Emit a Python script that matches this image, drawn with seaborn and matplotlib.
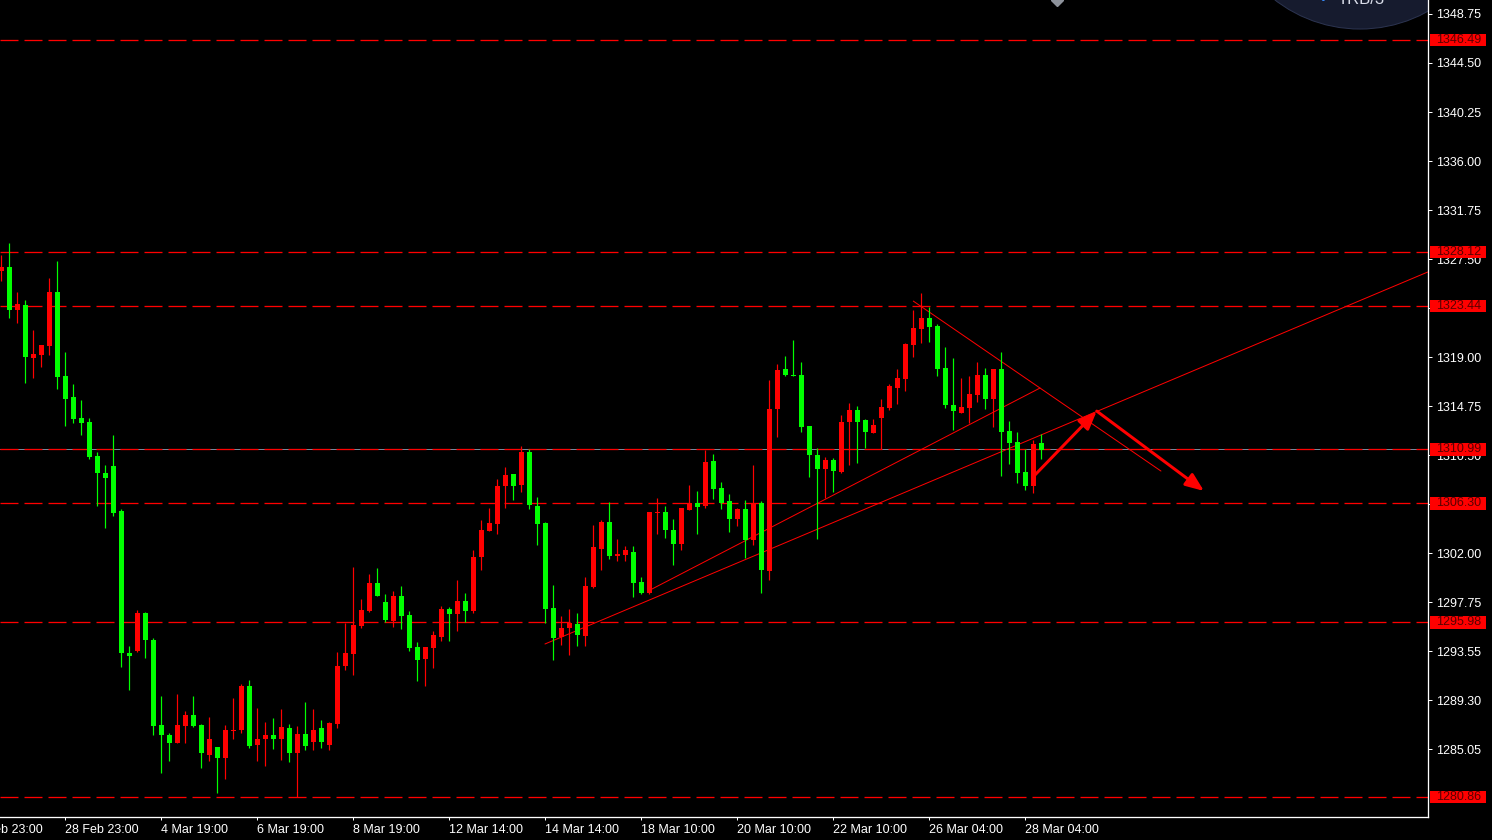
import matplotlib
matplotlib.use("Agg")
import matplotlib.pyplot as plt
import matplotlib.transforms as mtransforms
from matplotlib.patches import Rectangle, Ellipse
import numpy as np
import pandas as pd
import seaborn as sns

# H4 candles (index 0 = first visible candle)
opens = [1326.48, 1326.80, 1323.10, 1323.48, 1318.94, 1319.17, 1319.98, 1324.64, 1317.35, 1315.53,
         1313.71, 1313.36, 1310.41, 1308.91, 1309.54, 1305.64, 1293.33, 1293.53, 1296.80, 1294.45,
         1287.08, 1286.21, 1285.55, 1287.02, 1287.95, 1287.08, 1284.51, 1285.17, 1284.25, 1286.56,
         1286.65, 1290.46, 1285.35, 1285.84, 1286.21, 1285.84, 1286.82, 1284.63, 1286.30, 1285.61,
         1286.82, 1285.35, 1287.17, 1292.22, 1293.26, 1295.69, 1296.97, 1299.40, 1297.75, 1296.10,
         1298.27, 1296.62, 1293.85, 1292.81, 1293.76, 1294.71, 1297.14, 1296.71, 1297.84, 1296.97,
         1301.65, 1303.91, 1304.51, 1307.81, 1308.85, 1307.90, 1310.76, 1306.07, 1304.60, 1297.23,
         1294.71, 1295.49, 1295.84, 1294.80, 1299.05, 1302.35, 1304.69, 1301.74, 1301.83, 1302.09,
         1299.48, 1298.53, 1305.47, 1305.55, 1303.99, 1302.78, 1305.73, 1306.34, 1306.07, 1309.98,
         1307.64, 1306.51, 1304.95, 1305.81, 1303.13, 1306.34, 1300.44, 1314.49, 1317.96, 1317.44,
         1317.44, 1313.01, 1310.50, 1309.28, 1310.06, 1309.02, 1313.36, 1314.40, 1313.53, 1312.41,
         1313.71, 1314.57, 1316.31, 1317.09, 1320.04, 1321.43, 1322.38, 1321.69, 1318.04, 1314.83,
         1314.14, 1314.57, 1315.70, 1317.44, 1315.36, 1317.96, 1312.58, 1311.63, 1309.02, 1307.81,
         1311.54]
highs = [1327.84, 1328.91, 1324.64, 1323.94, 1321.34, 1320.04, 1325.85, 1327.32, 1319.43, 1316.66,
         1315.27, 1313.71, 1310.78, 1309.63, 1312.23, 1305.79, 1293.93, 1297.06, 1296.88, 1294.60,
         1289.60, 1286.39, 1289.77, 1288.30, 1289.60, 1287.17, 1287.78, 1285.17, 1287.08, 1289.42,
         1290.64, 1290.98, 1288.56, 1287.34, 1287.69, 1288.47, 1287.17, 1287.00, 1289.08, 1288.47,
         1287.51, 1287.34, 1293.41, 1295.93, 1300.78, 1298.01, 1300.18, 1300.70, 1298.44, 1298.70,
         1299.14, 1296.97, 1294.28, 1293.85, 1295.23, 1297.40, 1297.32, 1299.66, 1298.53, 1302.26,
         1304.86, 1305.90, 1308.42, 1309.46, 1308.85, 1311.28, 1311.02, 1306.86, 1304.69, 1299.22,
         1296.53, 1297.14, 1296.80, 1299.92, 1304.43, 1304.86, 1306.42, 1303.21, 1302.61, 1302.61,
         1299.92, 1305.55, 1306.77, 1306.07, 1304.95, 1305.90, 1307.90, 1307.38, 1310.93, 1310.59,
         1308.16, 1307.12, 1305.90, 1306.60, 1309.63, 1306.51, 1317.00, 1318.39, 1319.08, 1320.47,
         1318.56, 1313.01, 1311.11, 1310.32, 1310.24, 1313.97, 1315.01, 1314.75, 1313.62, 1313.62,
         1315.36, 1316.66, 1317.96, 1320.21, 1323.07, 1324.55, 1323.33, 1321.86, 1319.87, 1318.91,
         1317.18, 1317.35, 1318.56, 1318.04, 1317.96, 1319.43, 1313.45, 1312.49, 1311.02, 1311.80,
         1312.32]
lows = [1325.62, 1322.41, 1321.97, 1316.77, 1317.20, 1318.16, 1319.17, 1316.25, 1313.04, 1313.30,
        1312.26, 1310.18, 1306.10, 1304.19, 1305.23, 1292.14, 1290.12, 1293.44, 1292.92, 1286.21,
        1282.89, 1283.99, 1285.55, 1285.55, 1286.93, 1283.38, 1283.99, 1281.16, 1282.40, 1285.89,
        1286.41, 1285.11, 1283.99, 1283.55, 1285.03, 1284.07, 1283.90, 1280.86, 1284.91, 1284.91,
        1285.09, 1284.91, 1286.85, 1291.88, 1291.42, 1295.52, 1296.88, 1298.30, 1296.01, 1295.58,
        1295.41, 1293.50, 1290.90, 1290.46, 1292.02, 1294.37, 1294.37, 1295.23, 1296.01, 1296.80,
        1300.52, 1303.91, 1303.65, 1305.90, 1306.60, 1307.29, 1305.81, 1302.69, 1295.93, 1292.72,
        1294.02, 1293.15, 1293.93, 1293.93, 1298.96, 1300.52, 1301.48, 1301.30, 1301.30, 1298.18,
        1298.44, 1298.44, 1303.65, 1303.30, 1300.96, 1302.26, 1305.73, 1303.65, 1305.90, 1306.68,
        1305.81, 1303.82, 1304.34, 1301.57, 1302.69, 1298.53, 1299.66, 1312.06, 1317.35, 1317.35,
        1312.49, 1308.59, 1303.21, 1306.77, 1307.29, 1308.94, 1309.63, 1309.80, 1311.11, 1312.41,
        1311.02, 1314.40, 1314.92, 1316.05, 1319.00, 1320.21, 1320.30, 1317.35, 1314.57, 1312.67,
        1314.14, 1313.27, 1315.10, 1314.49, 1312.93, 1308.68, 1309.72, 1308.07, 1307.46, 1307.20,
        1310.15]
closes = [1326.83, 1323.10, 1323.59, 1319.02, 1319.26, 1320.04, 1324.64, 1317.29, 1315.38, 1313.65,
          1313.30, 1310.35, 1308.91, 1308.53, 1305.49, 1293.30, 1293.09, 1296.80, 1294.48, 1287.02,
          1286.24, 1285.55, 1287.08, 1287.95, 1287.02, 1284.63, 1285.87, 1284.25, 1286.65, 1286.65,
          1290.46, 1285.29, 1285.87, 1286.21, 1285.84, 1286.91, 1284.63, 1286.30, 1285.29, 1286.65,
          1285.61, 1287.25, 1292.20, 1293.33, 1295.75, 1297.06, 1299.40, 1298.30, 1296.19, 1298.27,
          1296.53, 1293.76, 1292.72, 1293.85, 1294.89, 1297.14, 1296.71, 1297.84, 1296.97, 1301.65,
          1303.99, 1304.60, 1307.81, 1308.76, 1307.81, 1310.76, 1306.16, 1304.51, 1297.14, 1294.63,
          1295.49, 1295.93, 1294.89, 1299.14, 1302.52, 1304.69, 1301.74, 1301.91, 1302.26, 1299.40,
          1298.53, 1305.55, 1305.55, 1303.99, 1302.78, 1305.90, 1306.34, 1305.99, 1309.89, 1307.55,
          1306.34, 1304.95, 1305.81, 1303.13, 1306.25, 1300.52, 1314.49, 1317.87, 1317.44, 1317.38,
          1312.93, 1310.50, 1309.28, 1310.06, 1309.11, 1313.36, 1314.40, 1313.36, 1312.49, 1313.10,
          1314.66, 1316.48, 1317.18, 1320.13, 1321.51, 1322.38, 1321.60, 1317.96, 1314.83, 1314.31,
          1314.66, 1315.79, 1317.44, 1315.36, 1317.96, 1312.49, 1311.54, 1308.94, 1307.81, 1311.45,
          1310.93]

# horizontal levels drawn on the chart
levels = [1346.49, 1328.12, 1323.44, 1310.99, 1306.30, 1295.98, 1280.86]
level_labels = ["1346.49", "1328.12", "1323.44", "1310.99", "1306.30", "1295.98", "1280.86"]

# price scale (labels hidden under a level box are left blank)
y_ticks = [1348.75, 1344.50, 1340.25, 1336.00, 1331.75, 1327.50, 1323.25, 1319.00, 1314.75,
           1310.50, 1306.25, 1302.00, 1297.75, 1293.50, 1289.25, 1285.00]
y_tick_labels = ["1348.75", "1344.50", "1340.25", "1336.00", "1331.75", "1327.50", "",
                 "1319.00", "1314.75", "1310.50", "", "1302.00", "1297.75", "1293.55",
                 "1289.30", "1285.05"]

# time scale (candle index of each label); the first one sits left of the view
x_ticks = [-4, 8, 20, 32, 44, 56, 68, 80, 92, 104, 116, 128]
x_tick_labels = ["26 Feb 23:00", "28 Feb 23:00", "4 Mar 19:00", "6 Mar 19:00", "8 Mar 19:00",
                 "12 Mar 14:00", "14 Mar 14:00", "18 Mar 10:00", "20 Mar 10:00", "22 Mar 10:00",
                 "26 Mar 04:00", "28 Mar 04:00"]

# trend lines (candle index, price)
trend_names = ["down", "down", "up1", "up1", "up2", "up2"]
trend_x = [114.0, 144.96, 81.09, 129.84, 67.96, 178.3]
trend_y = [1323.85, 1309.11, 1298.79, 1316.31, 1294.11, 1326.37]

# forecast arrows
arrow_x = [129.0, 136.93, 150.34]
arrow_y = [1308.62, 1314.31, 1307.38]

sns.set_theme(style="dark", rc={
    "figure.facecolor": "black",
    "axes.facecolor": "black",
    "axes.edgecolor": "white",
    "lines.scale_dashes": False,
})
plt.rcParams["font.family"] = ["Liberation Sans", "DejaVu Sans"]

PX = 0.72  # one pixel in points at dpi 100

fig = plt.figure(figsize=(14.92, 8.40), dpi=100)
ax = fig.add_axes([0, 23 / 840, 1428 / 1492, 817 / 840])
ax.set_facecolor("black")

df = pd.DataFrame({"o": opens, "h": highs, "l": lows, "c": closes})
df["i"] = np.arange(len(df))
df["col"] = np.where(df["c"] > df["o"], "#ff0000", "#00ff00")

# logo bubble at the top (drawn under the chart)
ax.add_patch(Ellipse((169.84, 1359.5), 34.75, 24.11, facecolor="#161b2e",
                     edgecolor="#2c3450", linewidth=PX, zorder=0.5))
ax.text(165.2, 1349.6, "\u2022", color="#3a8eff", fontsize=10, va="baseline", ha="center", zorder=0.6)
ax.text(167.1, 1349.6, "TRB/3", color="#d8dce8", fontsize=12, va="baseline", ha="left", zorder=0.6)
ax.plot([131.96], [1349.96], marker="D", markersize=6.5, color="#8e939c", zorder=0.6)

# levels
ax.axhline(1310.99, color="#778899", linewidth=PX, zorder=1)
for lv in levels:
    ax.axhline(lv, color="#ff0000", linewidth=PX * 1.3, dashes=(18 * PX, 6 * PX), zorder=1.1)

# trend lines
tl = pd.DataFrame({"name": trend_names, "x": trend_x, "y": trend_y})
sns.lineplot(data=tl, x="x", y="y", units="name", estimator=None, sort=False,
             color="#ff0000", linewidth=PX, ax=ax, zorder=2)

# candles
ax.vlines(df["i"], df["l"], df["h"], colors=df["col"], linewidth=PX * 1.2, zorder=3)
body_bottom = np.minimum(df["o"], df["c"])
body_h = np.maximum(np.abs(df["c"] - df["o"]), 0.1)
ax.bar(df["i"], body_h, bottom=body_bottom, width=0.625, color=df["col"],
       linewidth=0, zorder=4)

# arrows
for k in range(2):
    ax.annotate("", xy=(arrow_x[k + 1], arrow_y[k + 1]), xytext=(arrow_x[k], arrow_y[k]),
                arrowprops=dict(arrowstyle="-|>,head_length=0.55,head_width=0.22",
                                color="#ff0000", lw=3 * PX, shrinkA=0, shrinkB=0,
                                mutation_scale=20), zorder=5)

ax.set_xlabel("")
ax.set_ylabel("")

# axes styling
for s in ["left", "top"]:
    ax.spines[s].set_visible(False)
for s in ["right", "bottom"]:
    ax.spines[s].set_color("white")
    ax.spines[s].set_linewidth(PX * 1.3)
ax.yaxis.tick_right()
ax.set_yticks(y_ticks)
ax.set_yticklabels(y_tick_labels)
ax.set_xticks(x_ticks[1:])
ax.set_xticklabels(x_tick_labels[1:], ha="left")
ax.tick_params(axis="y", colors="white", labelsize=9, length=4 * PX, width=PX, pad=4 * PX,
               right=True, left=False)
ax.tick_params(axis="x", colors="white", labelsize=9, length=3 * PX, width=PX, pad=4 * PX,
               bottom=True)
ax.grid(False)

ax.set_xlim(-0.1625, 178.34)
ax.set_ylim(1279.105, 1349.964)

# the first time label starts left of the view and is cut by the figure edge
xlab_trans = mtransforms.blended_transform_factory(ax.transData, ax.transAxes) + \
    mtransforms.ScaledTranslation(0, -7 / 100, fig.dpi_scale_trans)
ax.text(x_ticks[0], 0, x_tick_labels[0], transform=xlab_trans, color="white", fontsize=9,
        ha="left", va="top", clip_on=False)

# red price labels on the scale
trans = mtransforms.blended_transform_factory(ax.transAxes, ax.transData)
for lv, lab in zip(levels, level_labels):
    ax.add_patch(Rectangle((1430 / 1428, lv - 0.54), 56 / 1428, 1.08, transform=trans,
                           facecolor="#ff0000", edgecolor="none", clip_on=False, zorder=10))
    ax.text(1436 / 1428, lv, lab, transform=trans, color="#5a0000", fontsize=9,
            va="center", ha="left", clip_on=False, zorder=11)

fig.savefig("out.png", dpi=100, facecolor="black")
